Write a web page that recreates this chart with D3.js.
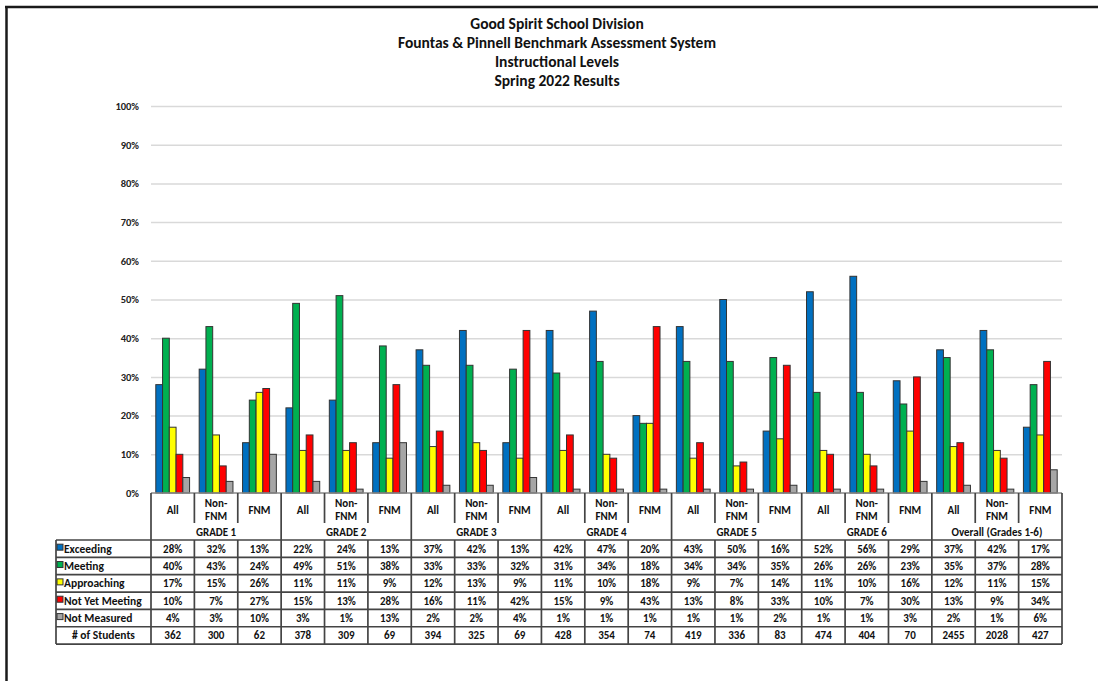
<!DOCTYPE html>
<html>
<head>
<meta charset="utf-8">
<script src="https://cdn.jsdelivr.net/npm/d3@7"></script>
<style>
  html, body { margin: 0; padding: 0; background: #fff; }
  svg { display: block; }
  text { font-family: Carlito, Calibri, "Liberation Sans Narrow", "Arial Narrow", "Liberation Sans", sans-serif; font-weight: bold; }
</style>
</head>
<body>
<svg id="chart" width="1098" height="681"></svg>
<script>
// Spring 2022 F&P instructional level results
const titleLines = [
  "Good Spirit School Division",
  "Fountas & Pinnell Benchmark Assessment System",
  "Instructional Levels",
  "Spring 2022 Results"
];
const groups = ["GRADE 1", "GRADE 2", "GRADE 3", "GRADE 4", "GRADE 5", "GRADE 6", "Overall (Grades 1-6)"];
const subgroups = ["All", "Non-FNM", "FNM"];
const seriesNames = ["Exceeding", "Meeting", "Approaching", "Not Yet Meeting", "Not Measured"];
const seriesColors = ["#0070C0", "#00B050", "#FFFF00", "#FF0000", "#A6A6A6"];

const exceeding     = [28, 32, 13, 22, 24, 13, 37, 42, 13, 42, 47, 20, 43, 50, 16, 52, 56, 29, 37, 42, 17];
const meeting       = [40, 43, 24, 49, 51, 38, 33, 33, 32, 31, 34, 18, 34, 34, 35, 26, 26, 23, 35, 37, 28];
const approaching   = [17, 15, 26, 11, 11,  9, 12, 13,  9, 11, 10, 18,  9,  7, 14, 11, 10, 16, 12, 11, 15];
const notYetMeeting = [10,  7, 27, 15, 13, 28, 16, 11, 42, 15,  9, 43, 13,  8, 33, 10,  7, 30, 13,  9, 34];
const notMeasured   = [ 4,  3, 10,  3,  1, 13,  2,  2,  4,  1,  1,  1,  1,  1,  2,  1,  1,  3,  2,  1,  6];
const students      = [362, 300, 62, 378, 309, 69, 394, 325, 69, 428, 354, 74, 419, 336, 83, 474, 404, 70, 2455, 2028, 427];
const yTicks = [0, 10, 20, 30, 40, 50, 60, 70, 80, 90, 100];

const seriesValues = [exceeding, meeting, approaching, notYetMeeting, notMeasured];

// Column keys: one per grade/subgroup pair
const columns = [];
groups.forEach((g, gi) => subgroups.forEach((s, si) => columns.push({ group: g, gi, sub: s, si, idx: gi * 3 + si })));

const svg = d3.select("#chart");

const plotLeft = 151, plotRight = 1062, plotTop = 106, plotBottom = 493;
const headerBottom = 540, rowH = 17.35;
const legendLeft = 56;

const x0 = d3.scaleBand().domain(d3.range(columns.length)).range([plotLeft, plotRight]).padding(0);
const colW = x0.bandwidth();
const x1 = d3.scaleBand().domain(d3.range(seriesNames.length)).range([4.8, colW - 4.8]).padding(0);
const y = d3.scaleLinear().domain([0, 100]).range([plotBottom, plotTop]);

// Frame lines
svg.append("line").attr("x1", 6.5).attr("x2", 6.5).attr("y1", 6).attr("y2", 681)
  .attr("stroke", "#1a1a1a").attr("stroke-width", 2.5);
svg.append("line").attr("x1", 5).attr("x2", 1098).attr("y1", 7).attr("y2", 7)
  .attr("stroke", "#1a1a1a").attr("stroke-width", 2.5);

// Title
svg.append("g").selectAll("text").data(titleLines).join("text")
  .attr("x", 557).attr("y", (d, i) => 29 + i * 19)
  .attr("text-anchor", "middle").attr("font-size", 15.5).attr("fill", "#111")
  .text(d => d);

// Gridlines
svg.append("g")
  .attr("transform", `translate(${plotLeft},0)`)
  .call(d3.axisLeft(y).tickValues(yTicks.filter(t => t > 0)).tickSize(-(plotRight - plotLeft)).tickFormat(""))
  .call(g => g.select(".domain").remove())
  .call(g => g.selectAll(".tick line").attr("stroke", "#d9d9d9").attr("stroke-width", 1.5));

// Y tick labels
svg.append("g")
  .attr("transform", `translate(${plotLeft - 9},0)`)
  .call(d3.axisLeft(y).tickValues(yTicks).tickSize(0).tickFormat(d => d + "%"))
  .call(g => g.select(".domain").remove())
  .call(g => g.selectAll(".tick text").attr("font-size", 10.5).attr("fill", "#222")
    .style("font-family", "Carlito, Calibri, 'Liberation Sans Narrow', sans-serif").style("font-weight", "bold"));

// Bars
const colG = svg.append("g").selectAll("g").data(columns).join("g")
  .attr("transform", d => `translate(${x0(d.idx)},0)`);
colG.selectAll("rect")
  .data(d => seriesValues.map((vals, si) => ({ si, v: vals[d.idx] })))
  .join("rect")
  .attr("x", d => x1(d.si))
  .attr("width", x1.bandwidth())
  .attr("y", d => y(d.v))
  .attr("height", d => plotBottom - y(d.v))
  .attr("fill", d => seriesColors[d.si])
  .attr("stroke", "#333")
  .attr("stroke-width", 1);

// Header box below the axis
const lineColor = "#444";
const hdr = svg.append("g");
hdr.append("line").attr("x1", plotLeft).attr("x2", plotRight).attr("y1", plotBottom).attr("y2", plotBottom)
  .attr("stroke", "#888").attr("stroke-width", 1.5);
// Subgroup labels
columns.forEach(c => {
  const cx = x0(c.idx) + colW / 2;
  if (c.sub === "Non-FNM") {
    hdr.append("text").attr("x", cx).attr("y", 507).attr("text-anchor", "middle").attr("font-size", 11).attr("fill", "#111").text("Non-");
    hdr.append("text").attr("x", cx).attr("y", 520).attr("text-anchor", "middle").attr("font-size", 11).attr("fill", "#111").text("FNM");
  } else {
    hdr.append("text").attr("x", cx).attr("y", 514).attr("text-anchor", "middle").attr("font-size", 11).attr("fill", "#111").text(c.sub);
  }
});
// Group labels
groups.forEach((g, gi) => {
  const cx = x0(gi * 3) + colW * 1.5;
  hdr.append("text").attr("x", cx).attr("y", 536).attr("text-anchor", "middle").attr("font-size", 11).attr("fill", "#111").text(g);
});

// Vertical lines: group boundaries run full height; inner boundaries are split around the group label
const tableBottom = headerBottom + rowH * 6;
d3.range(columns.length + 1).forEach(i => {
  const xx = i === columns.length ? plotRight : x0(i);
  if (i % 3 === 0) {
    svg.append("line").attr("x1", xx).attr("x2", xx).attr("y1", plotBottom).attr("y2", tableBottom)
      .attr("stroke", lineColor).attr("stroke-width", 1.7);
  } else {
    svg.append("line").attr("x1", xx).attr("x2", xx).attr("y1", plotBottom).attr("y2", 523)
      .attr("stroke", lineColor).attr("stroke-width", 1.7);
    svg.append("line").attr("x1", xx).attr("x2", xx).attr("y1", headerBottom).attr("y2", tableBottom)
      .attr("stroke", lineColor).attr("stroke-width", 1.7);
  }
});

// Data table
const rowLabels = seriesNames.concat(["# of Students"]);
const rowValues = seriesValues.map(vals => vals.map(v => v + "%")).concat([students.map(String)]);
const tbl = svg.append("g");
d3.range(7).forEach(r => {
  const yy = headerBottom + r * rowH;
  tbl.append("line").attr("x1", legendLeft).attr("x2", plotRight).attr("y1", yy).attr("y2", yy)
    .attr("stroke", lineColor).attr("stroke-width", 1.7);
});
tbl.append("line").attr("x1", legendLeft).attr("x2", legendLeft).attr("y1", headerBottom).attr("y2", tableBottom)
  .attr("stroke", lineColor).attr("stroke-width", 1.7);

rowLabels.forEach((lab, r) => {
  const cy = headerBottom + r * rowH + rowH / 2 + 4;
  if (r < seriesNames.length) {
    tbl.append("rect").attr("x", 57).attr("y", cy - 8.5).attr("width", 6).attr("height", 6)
      .attr("fill", seriesColors[r]).attr("stroke", "#333").attr("stroke-width", 1);
    tbl.append("text").attr("x", 64).attr("y", cy).attr("font-size", 11.5).attr("fill", "#111").text(lab);
  } else {
    tbl.append("text").attr("x", (legendLeft + plotLeft) / 2).attr("y", cy).attr("text-anchor", "middle")
      .attr("font-size", 11.5).attr("fill", "#111").text(lab);
  }
  rowValues[r].forEach((v, c) => {
    tbl.append("text").attr("x", x0(c) + colW / 2).attr("y", cy).attr("text-anchor", "middle")
      .attr("font-size", 11).attr("fill", "#111").text(v);
  });
});
</script>
</body>
</html>
